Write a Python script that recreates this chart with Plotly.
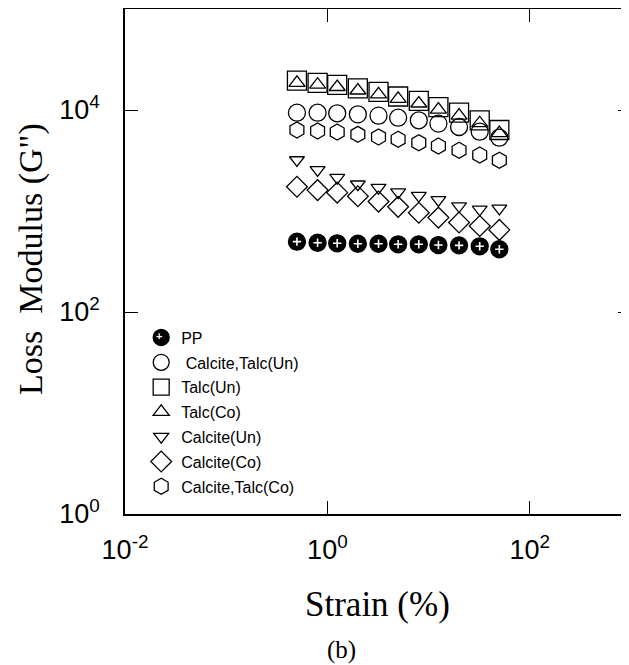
import plotly.graph_objects as go

strain = [0.5, 0.8, 1.25, 2, 3.2, 5, 8, 12.5, 20, 32, 50]

pp = [497, 485, 479, 474, 474, 468, 468, 460, 457, 447, 418]
calc_talc_un = [9400, 9400, 9270, 9060, 8790, 8390, 7910, 7330, 6790, 6100, 5320]
talc_un = [19500, 18600, 17700, 16400, 15100, 13600, 12300, 10700, 9400, 7900, 6340]
talc_co = [18600, 17800, 16900, 15600, 14300, 12900, 11600, 10100, 8800, 7400, 5900]
calc_un = [3200, 2550, 2140, 1840, 1700, 1540, 1420, 1290, 1120, 1040, 1060]
calc_co = [1740, 1610, 1520, 1400, 1240, 1100, 960, 860, 770, 710, 650]
calc_talc_co = [6340, 6200, 6050, 5740, 5410, 5130, 4740, 4400, 3990, 3580, 3180]

labels = ["PP", " Calcite,Talc(Un)", "Talc(Un)", "Talc(Co)", "Calcite(Un)",
          "Calcite(Co)", "Calcite,Talc(Co)"]

x_tickvals = [0.01, 1, 100]
x_ticktext = ["10<sup>-2</sup>", "10<sup>0</sup>", "10<sup>2</sup>"]
y_tickvals = [1, 100, 10000]
y_ticktext = ["10<sup>0</sup>", "10<sup>2</sup>", "10<sup>4</sup>"]

fig = go.Figure()

def add(y, name, symbol, size, filled=False):
    fig.add_trace(go.Scatter(
        x=strain, y=y, mode="markers", name=name, legendgroup=name,
        marker=dict(symbol=symbol, size=size,
                    color="black" if filled else "rgba(0,0,0,0)",
                    line=dict(color="black", width=1.3)),
    ))

add(pp, labels[0], "circle", 17, filled=True)
# white crosses on PP markers
fig.add_trace(go.Scatter(
    x=strain, y=pp, mode="markers", showlegend=False, hoverinfo="skip",
    marker=dict(symbol="cross-thin", size=6, color="white",
                line=dict(color="white", width=1.6)),
))
add(calc_talc_un, labels[1], "circle", 17)
add(talc_un, labels[2], "square", 19)
add(talc_co, labels[3], "triangle-up", 14)
add(calc_un, labels[4], "triangle-down", 13)
add(calc_co, labels[5], "diamond", 16)
add(calc_talc_co, labels[6], "hexagon", 16)

axis_common = dict(
    type="log", showgrid=False, zeroline=False, automargin=False,
    showline=True, linecolor="black", linewidth=1.5, mirror="ticks",
    ticks="inside", ticklen=13, tickwidth=1.3, tickcolor="black",
    tickfont=dict(family="Liberation Sans, Arial", size=27, color="black"),
)

SERIF = "Liberation Serif, Times New Roman"
# page body adds an 8px offset; plot area spans window px 125..631 x 8..513
PX0, PW, PY0, PH = 125, 506, 513, 505

def px(x):
    return (x - PX0) / PW

def py(y):
    return (PY0 - y) / PH

fig.update_layout(
    width=623, height=657,
    margin=dict(l=117, r=0, t=1, b=151),
    plot_bgcolor="white", paper_bgcolor="white",
    xaxis=dict(range=[-2, 3], tickmode="array", tickvals=x_tickvals,
               ticktext=x_ticktext, ticklabelstandoff=11, **axis_common),
    yaxis=dict(range=[0, 5], tickmode="array", tickvals=y_tickvals,
               ticktext=y_ticktext, ticklabelstandoff=18, **axis_common),
    legend=dict(x=0.032, y=0.383, xanchor="left", yanchor="top",
                bgcolor="rgba(0,0,0,0)", traceorder="grouped", tracegroupgap=1,
                font=dict(family="Liberation Sans, Arial", size=16, color="black")),
    showlegend=True,
    annotations=[
        dict(text="Loss  Modulus (G\")", xref="paper", yref="paper",
             x=px(31), y=py(258), xanchor="center", yanchor="middle",
             textangle=-90, showarrow=False,
             font=dict(family=SERIF, size=34, color="black")),
        dict(text="Strain (%)", xref="paper", yref="paper",
             x=px(377), y=py(603), xanchor="center", yanchor="middle",
             showarrow=False,
             font=dict(family=SERIF, size=35, color="black")),
        dict(text="(b)", xref="paper", yref="paper",
             x=px(341), y=py(649), xanchor="center", yanchor="middle",
             showarrow=False,
             font=dict(family=SERIF, size=25, color="black")),
        dict(text="<b>+</b>", xref="paper", yref="paper",
             x=px(159), y=py(335), xanchor="center", yanchor="middle",
             showarrow=False,
             font=dict(family="Liberation Sans, Arial", size=11, color="white")),
    ],
)

fig.write_html("out.html")
